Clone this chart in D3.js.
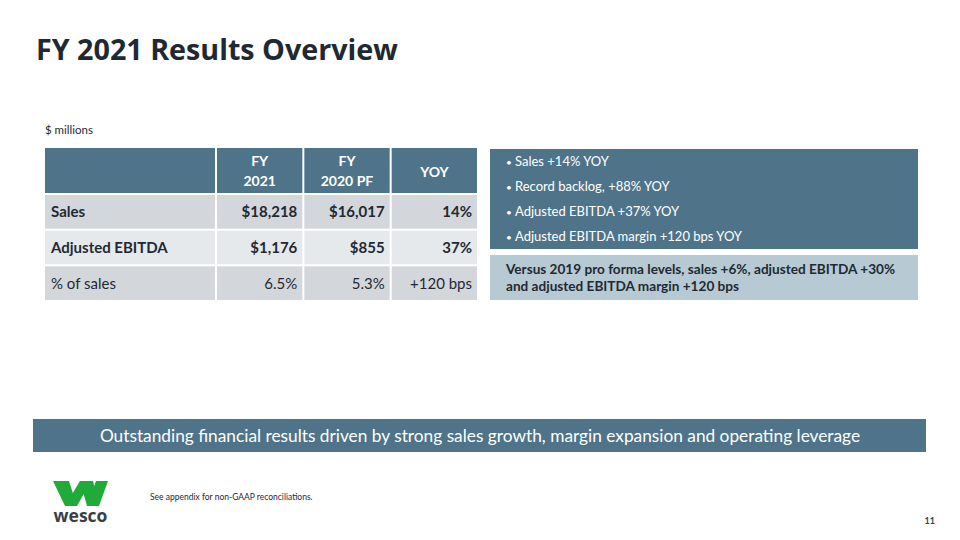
<!DOCTYPE html>
<html><head><meta charset="utf-8">
<script src="https://cdn.jsdelivr.net/npm/d3@7"></script>
<style>
html,body{margin:0;padding:0;background:#fff;}
svg{display:block;font-family:Lato,"Noto Sans",sans-serif;}
</style></head>
<body><svg id="c" width="960" height="540"></svg>
<script>
const title = "FY 2021 Results Overview";
const unitLabel = "$ millions";
const columns = [["FY","2021"],["FY","2020 PF"],["YOY"]];
const rowLabels = ["Sales","Adjusted EBITDA","% of sales"];
const rowBold = [true,true,false];
const fy2021 = ["$18,218","$1,176","6.5%"];
const fy2020 = ["$16,017","$855","5.3%"];
const yoy = ["14%","37%","+120 bps"];
const bullets = ["Sales +14% YOY","Record backlog, +88% YOY","Adjusted EBITDA +37% YOY","Adjusted EBITDA margin +120 bps YOY"];
const note = ["Versus 2019 pro forma levels, sales +6%, adjusted EBITDA +30%","and adjusted EBITDA margin +120 bps"];
const banner = "Outstanding financial results driven by strong sales growth, margin expansion and operating leverage";
const footnote = "See appendix for non-GAAP reconciliations.";
const pageNum = "11";

const svg = d3.select("#c");
const dark = "#4f7489", ink = "#1f2933";

svg.append("text").attr("x",36).attr("y",60).attr("font-size",28.7).attr("font-weight",700)
  .attr("fill",ink).attr("font-family","'Open Sans',Lato,sans-serif").text(title);
svg.append("text").attr("x",45).attr("y",134).attr("font-size",11.5).attr("fill",ink).text(unitLabel);

// table
const valCols = [fy2021, fy2020, yoy];
const xCol = d3.scaleBand().domain(d3.range(3)).range([216,478]).paddingInner(0.0);
const labelX0 = 45;
const headerY0 = 148, headerY1 = 194;
const yRow = d3.scaleBand().domain(d3.range(rowLabels.length)).range([194,301]);
const rowFill = ["#d3d7db","#e6e9ec","#d3d7db"];
const gap = 2;

// header
const hdr = svg.append("g");
hdr.append("rect").attr("x",labelX0).attr("y",headerY0).attr("width",xCol(0)-labelX0-gap/2).attr("height",headerY1-headerY0-gap/2).attr("fill",dark);
columns.forEach((c,i)=>{
  hdr.append("rect").attr("x",xCol(i)+gap/2).attr("y",headerY0).attr("width",xCol.bandwidth()-gap).attr("height",headerY1-headerY0-gap/2).attr("fill",dark);
  const cx = xCol(i)+xCol.bandwidth()/2;
  const t = hdr.append("text").attr("text-anchor","middle").attr("fill","#fff").attr("font-size",14).attr("font-weight",700);
  if(c.length===2){
    t.append("tspan").attr("x",cx).attr("y",166).text(c[0]);
    t.append("tspan").attr("x",cx).attr("y",186).text(c[1]);
  } else {
    t.attr("x",cx).attr("y",177).text(c[0]);
  }
});

rowLabels.forEach((lab,r)=>{
  const y0 = yRow(r)+gap/2, h = yRow.bandwidth()-gap;
  const cy = yRow(r)+yRow.bandwidth()/2;
  svg.append("rect").attr("x",labelX0).attr("y",y0).attr("width",xCol(0)-labelX0-gap/2).attr("height",h).attr("fill",rowFill[r]);
  svg.append("text").attr("x",51).attr("y",cy+5.5).attr("font-size",15).attr("font-weight",rowBold[r]?700:400).attr("fill",ink).text(lab);
  valCols.forEach((col,i)=>{
    svg.append("rect").attr("x",xCol(i)+gap/2).attr("y",y0).attr("width",xCol.bandwidth()-gap).attr("height",h).attr("fill",rowFill[r]);
    svg.append("text").attr("x",xCol(i)+xCol.bandwidth()-6).attr("y",cy+5.5).attr("text-anchor","end")
      .attr("font-size",15).attr("font-weight",rowBold[r]?700:400).attr("fill",ink).text(col[r]);
  });
});

// right panel
const rp = svg.append("g");
rp.append("rect").attr("x",490).attr("y",149).attr("width",428).attr("height",100).attr("fill",dark);
const yB = d3.scalePoint().domain(d3.range(bullets.length)).range([166,241]);
bullets.forEach((b,i)=>{
  rp.append("text").attr("x",506).attr("y",yB(i)).attr("font-size",10).attr("fill","#fff").text("\u2022");
  rp.append("text").attr("x",515).attr("y",yB(i)).attr("font-size",13).attr("fill","#fff").text(b);
});
rp.append("rect").attr("x",490).attr("y",255).attr("width",428).attr("height",45).attr("fill","#b7c9d2");
note.forEach((n,i)=>{
  rp.append("text").attr("x",506).attr("y",274+i*17).attr("font-size",13.6).attr("font-weight",700).attr("fill",ink).text(n);
});

// banner
svg.append("rect").attr("x",33).attr("y",419).attr("width",893).attr("height",33).attr("fill",dark);
svg.append("text").attr("x",480).attr("y",442).attr("text-anchor","middle").attr("font-size",17.3)
  .attr("fill","#fff").text(banner);

// footnote
svg.append("text").attr("x",150).attr("y",500).attr("font-size",8.5).attr("fill",ink).text(footnote);
svg.append("text").attr("x",935).attr("y",524).attr("text-anchor","end").attr("font-size",9).attr("font-weight",700).attr("fill","#3a3f45").text(pageNum);

// logo
const logo = svg.append("g");
const green = "#1faa3a";
const shapes = [
  [[53,481],[69,481],[77,506],[65,506]],
  [[65,506],[77,506],[91,481],[80,481]],
  [[80,481],[93,481],[99,506],[87,506]],
  [[87,506],[99,506],[108,481],[96,481]]
];
shapes.forEach(p=>logo.append("polygon").attr("points",p.map(q=>q.join(",")).join(" ")).attr("fill",green));
logo.append("text").attr("x",80.5).attr("y",522).attr("text-anchor","middle").attr("font-size",17.5)
  .attr("font-weight",700).attr("fill","#3a3f45").attr("font-family","'Open Sans',sans-serif").text("wesco");
</script></body></html>
